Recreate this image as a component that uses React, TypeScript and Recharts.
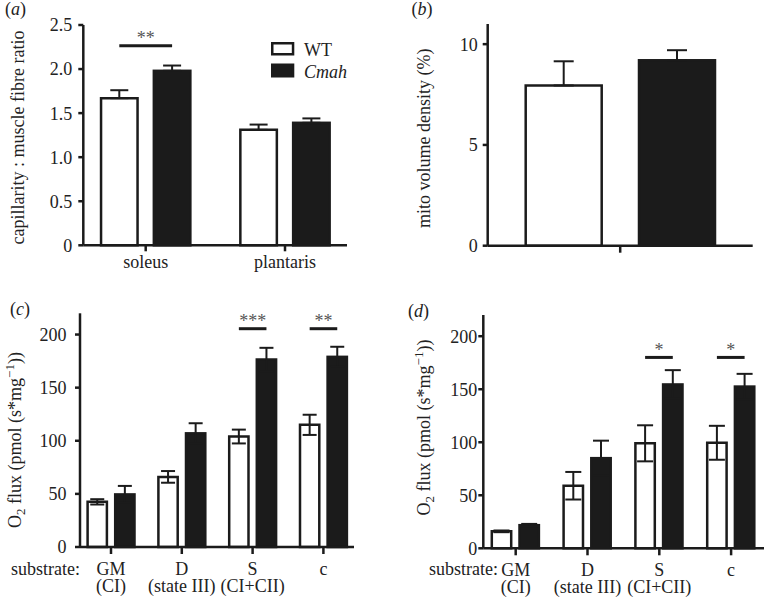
import React from 'react';
import { BarChart, Bar, XAxis, YAxis, ErrorBar, Legend } from 'recharts';

const FONT = "'Liberation Serif', 'Times New Roman', Times, serif";
const INK = '#1b1b1b';
const TEXT = '#222';
const W = 780;
const H = 598;
const FS = 18;
const YW = 40; // y-axis reserved width
const XH = 40; // x-axis reserved height

const seriesNames = ['WT', 'Cmah'];

// ---- panel (a): capillarity : muscle fibre ratio
const aCategories = ['soleus', 'plantaris'];
const aWT = [1.67, 1.31];
const aWTErr = [0.09, 0.06];
const aCmah = [1.98, 1.39];
const aCmahErr = [0.06, 0.05];
const aTicks = [0, 0.5, 1, 1.5, 2, 2.5];
const aSigY = [2.265, null];
const aSigLabel = ['**', ''];

// ---- panel (b): mito volume density (%)
const bCategories = ['mito'];
const bWT = [7.95];
const bWTErr = [1.2];
const bCmah = [9.2];
const bCmahErr = [0.5];
const bTicks = [0, 5, 10];
const bSigY = [null];
const bSigLabel = [''];

// ---- panels (c), (d): O2 flux
const substrateTop = ['GM', 'D', 'S', 'c'];
const substrateBottom = ['(CI)', '(state III)', '(CI+CII)', ''];
const fluxTicks = [0, 50, 100, 150, 200];

const cWT = [42.5, 66, 104, 115];
const cWTErr = [2.5, 5.5, 6.5, 9.5];
const cCmah = [49.5, 107, 176.5, 179];
const cCmahErr = [8, 9.5, 11, 9.5];
const cSigY = [null, null, 205.5, 205.5];
const cSigLabel = ['', '', '***', '**'];

const dWT = [16, 59, 99, 99.5];
const dWTErr = [0.8, 13, 17, 16];
const dCmah = [21.8, 85, 154.5, 152.5];
const dCmahErr = [1.2, 16.5, 13.5, 12];
const dSigY = [null, null, 180, 180];
const dSigLabel = ['', '', '*', '*'];

const build = (
  cats: string[], wt: number[], wtErr: number[], cmah: number[], cmahErr: number[],
  sigY: (number | null)[], sigLabel: string[], upperOnly: boolean
) =>
  cats.map((cat, i) => ({
    cat,
    wt: wt[i],
    wtErr: upperOnly ? [0, wtErr[i]] : wtErr[i],
    cmah: cmah[i],
    cmahErr: upperOnly ? [0, cmahErr[i]] : cmahErr[i],
    sigY: sigY[i],
    sigLabel: sigLabel[i],
  }));

const aData = build(aCategories, aWT, aWTErr, aCmah, aCmahErr, aSigY, aSigLabel, true);
const bData = build(bCategories, bWT, bWTErr, bCmah, bCmahErr, bSigY, bSigLabel, true);
const cData = build(substrateTop, cWT, cWTErr, cCmah, cCmahErr, cSigY, cSigLabel, false);
const dData = build(substrateTop, dWT, dWTErr, dCmah, dCmahErr, dSigY, dSigLabel, false);

const textStyle = { fontFamily: FONT, fontSize: FS };

const makeCmahShape = (gap: number) => (props: any) => {
  const { x, y, width, height, payload } = props;
  const value = payload ? payload.cmah : 0;
  let sig = null;
  if (payload && payload.sigY != null && value > 0 && height > 0) {
    const base = y + height;
    const sy = base - (height * payload.sigY) / value;
    const xc = x + width / 2;
    const x0 = xc - width - gap;
    sig = (
      <g>
        <line x1={x0} x2={xc} y1={sy} y2={sy} stroke={INK} strokeWidth={3} />
        <text x={(x0 + xc) / 2} y={sy - 1.5} textAnchor="middle" style={textStyle} fill="#555">
          {payload.sigLabel}
        </text>
      </g>
    );
  }
  return (
    <g>
      <rect x={x} y={y} width={width} height={height} fill={INK} stroke={INK} strokeWidth={2.5} />
      {sig}
    </g>
  );
};

const SimpleTick = (props: any) => {
  const { x, y, payload, show } = props;
  if (!show) return <g />;
  return (
    <text x={x} y={y + 16.5} textAnchor="middle" style={textStyle} fill={TEXT}>
      {payload.value}
    </text>
  );
};

const SubstrateTick = (props: any) => {
  const { x, y, payload } = props;
  const idx = substrateTop.indexOf(payload.value);
  const bottom = idx >= 0 ? substrateBottom[idx] : '';
  return (
    <g>
      <text x={x} y={y + 20.5} textAnchor="middle" style={textStyle} fill={TEXT}>
        {payload.value}
      </text>
      {bottom ? (
        <text x={x} y={y + 37.5} textAnchor="middle" style={textStyle} fill={TEXT}>
          {bottom}
        </text>
      ) : null}
    </g>
  );
};

const LegendBox = () => (
  <svg width={110} height={46} style={{ overflow: 'visible', display: 'block' }}>
    {seriesNames.map((n, i) => (
      <g key={n}>
        <rect
          x={2.25}
          y={i === 0 ? 3.25 : 24.75}
          width={20.8}
          height={i === 0 ? 11 : 11.5}
          fill={i === 0 ? '#fff' : INK}
          stroke={INK}
          strokeWidth={2.5}
        />
        <text
          x={34}
          y={i === 0 ? 15.5 : 37.5}
          style={{ ...textStyle, fontStyle: i === 0 ? 'normal' : 'italic' }}
          fill={TEXT}
        >
          {n}
        </text>
      </g>
    ))}
  </svg>
);

type PanelProps = {
  data: any[];
  axisX: number;
  axisY: number;
  top: number;
  right: number;
  yDomain: [number, number];
  yTicks: number[];
  yFmt?: (v: number) => string;
  yTickMargin: number;
  barSize: number;
  barGap: number;
  capHalf: number;
  padL: number;
  padR: number;
  xTickSize: number;
  tick: any;
  legend?: boolean;
};

const axisStyle = { stroke: INK, strokeWidth: 2.5 };

function Panel(p: PanelProps) {
  const margin = { top: p.top, left: p.axisX - YW, right: W - p.right, bottom: H - p.axisY - XH };
  return (
    <div style={{ position: 'absolute', left: 0, top: 0 }}>
      <BarChart width={W} height={H} data={p.data} margin={margin} barGap={p.barGap} barSize={p.barSize}>
        <XAxis
          dataKey="cat"
          padding={{ left: p.padL, right: p.padR }}
          height={XH}
          interval={0}
          axisLine={axisStyle}
          tickLine={axisStyle}
          tickSize={p.xTickSize}
          tickMargin={0}
          tick={p.tick}
        />
        <YAxis
          width={YW}
          domain={p.yDomain}
          ticks={p.yTicks}
          interval={0}
          tickFormatter={p.yFmt}
          axisLine={axisStyle}
          tickLine={axisStyle}
          tickSize={5}
          tickMargin={p.yTickMargin}
          tick={{ fill: TEXT, fontSize: FS, fontFamily: FONT, style: { fontFamily: FONT } }}
        />
        <Bar dataKey="wt" name={seriesNames[0]} fill="#fff" stroke={INK} strokeWidth={2.5} isAnimationActive={false}>
          <ErrorBar dataKey="wtErr" width={p.capHalf} stroke={INK} strokeWidth={2} direction="y" />
        </Bar>
        <Bar
          dataKey="cmah"
          name={seriesNames[1]}
          fill={INK}
          stroke={INK}
          strokeWidth={2.5}
          isAnimationActive={false}
          shape={makeCmahShape(p.barGap)}
        >
          <ErrorBar dataKey="cmahErr" width={p.capHalf} stroke={INK} strokeWidth={2} direction="y" />
        </Bar>
        {p.legend ? (
          <Legend
            layout="vertical"
            align="center"
            verticalAlign="middle"
            wrapperStyle={{ position: 'absolute', left: 270, top: 40, width: 110, height: 46, margin: 0, padding: 0 }}
            content={() => <LegendBox />}
          />
        ) : null}
      </BarChart>
    </div>
  );
}

const FluxLabel = ({ x, y }: { x: number; y: number }) => (
  <text transform={`translate(${x},${y}) rotate(-90)`} textAnchor="middle">
    O<tspan dy={4} fontSize={13}>2</tspan>
    <tspan dy={-4}> flux (pmol (s*mg</tspan>
    <tspan dy={-7} fontSize={13}>−1</tspan>
    <tspan dy={7}>))</tspan>
  </text>
);

const Overlay = () => (
  <svg
    width={764}
    height={598}
    style={{ position: 'absolute', left: 0, top: 0, pointerEvents: 'none', fontFamily: FONT, fontSize: FS }}
    fill={TEXT}
  >
    <text x={5} y={14.5}>(<tspan fontStyle="italic">a</tspan>)</text>
    <text x={411.5} y={14.5}>(<tspan fontStyle="italic">b</tspan>)</text>
    <text x={10} y={315}>(<tspan fontStyle="italic">c</tspan>)</text>
    <text x={408} y={316.5}>(<tspan fontStyle="italic">d</tspan>)</text>

    <text transform="translate(24,137.5) rotate(-90)" textAnchor="middle">capillarity : muscle fibre ratio</text>
    <text transform="translate(430,138.3) rotate(-90)" textAnchor="middle">mito volume density (%)</text>

    <FluxLabel x={20.5} y={440} />
    <FluxLabel x={430} y={427.5} />

    <text x={80} y={575} textAnchor="end">substrate:</text>
    <text x={498} y={575} textAnchor="end">substrate:</text>
  </svg>
);

const aFmt = (v: number) => (v === 0 ? '0' : v.toFixed(1));

export default function App() {
  return (
    <div
      style={{
        position: 'fixed',
        left: 0,
        top: 0,
        width: 764,
        height: 598,
        overflow: 'hidden',
        background: '#fff',
        fontFamily: FONT,
      }}
    >
      <Panel
        data={aData}
        axisX={83.3}
        axisY={245.3}
        top={25}
        right={347}
        yDomain={[0, 2.5]}
        yTicks={aTicks}
        yFmt={aFmt}
        yTickMargin={6}
        barSize={36.5}
        barGap={16.3}
        capHalf={9}
        padL={-7.25}
        padR={-7.65}
        xTickSize={6}
        tick={<SimpleTick show />}
        legend
      />
      <Panel
        data={bData}
        axisX={487.7}
        axisY={245.7}
        top={24}
        right={752.7}
        yDomain={[0, 11]}
        yTicks={bTicks}
        yTickMargin={5}
        barSize={76}
        barGap={37.3}
        capHalf={10}
        padL={0}
        padR={0}
        xTickSize={7}
        tick={<SimpleTick show={false} />}
      />
      <Panel
        data={cData}
        axisX={80}
        axisY={547}
        top={313.3}
        right={354}
        yDomain={[0, 220]}
        yTicks={fluxTicks}
        yTickMargin={8.5}
        barSize={19.3}
        barGap={8.3}
        capHalf={7}
        padL={-4.4}
        padR={-4.8}
        xTickSize={7}
        tick={<SubstrateTick />}
      />
      <Panel
        data={dData}
        axisX={483.3}
        axisY={548.3}
        top={315}
        right={767}
        yDomain={[0, 220]}
        yTicks={fluxTicks}
        yTickMargin={1}
        barSize={19.4}
        barGap={8.3}
        capHalf={8}
        padL={-3.5}
        padR={0}
        xTickSize={7}
        tick={<SubstrateTick />}
      />
      <Overlay />
    </div>
  );
}
